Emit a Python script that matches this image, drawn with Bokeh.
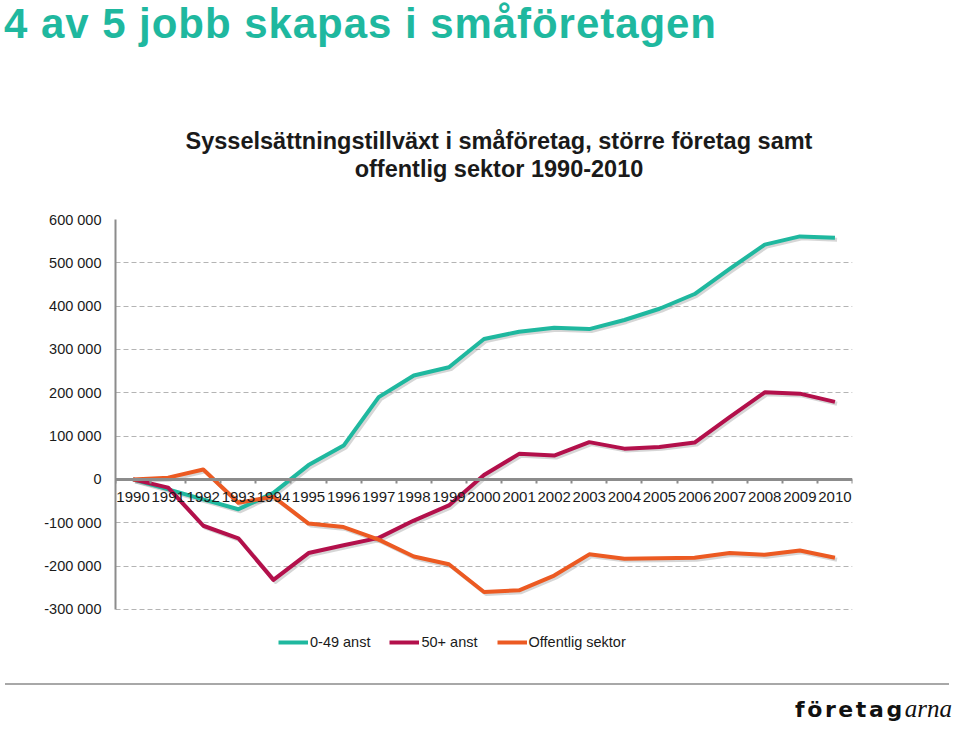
from bokeh.plotting import figure
from bokeh.models import (Div, Legend, LegendItem, FixedTicker, ColumnDataSource,
                          Range1d)
from bokeh.layouts import column
from bokeh.transform import dodge
from bokeh.embed import file_html
from bokeh.resources import INLINE

# ---------------- data ----------------
years = [1990, 1991, 1992, 1993, 1994, 1995, 1996, 1997, 1998, 1999, 2000,
         2001, 2002, 2003, 2004, 2005, 2006, 2007, 2008, 2009, 2010]
small = [0, -23000, -46000, -69000, -31000, 33000, 78000, 190000, 240000, 259000, 324000,
         341000, 350000, 347000, 368000, 394000, 428000, 486000, 542000, 561000, 558000]
large = [0, -19000, -107000, -136000, -232000, -170000, -152000, -135000, -95000, -60000, 10000,
         59000, 55000, 86000, 71000, 75000, 85000, 144000, 201000, 198000, 179000]
public = [0, 4000, 23000, -54000, -40000, -102000, -110000, -139000, -178000, -196000, -260000,
          -256000, -222000, -173000, -183000, -182000, -181000, -170000, -174000, -164000, -181000]
series_names = ["0-49 anst", "50+ anst", "Offentlig sektor"]
y_ticks = [-300000, -200000, -100000, 0, 100000, 200000, 300000, 400000, 500000, 600000]
y_tick_labels = ["-300 000", "-200 000", "-100 000", "0", "100 000", "200 000",
                 "300 000", "400 000", "500 000", "600 000"]
x_tick_labels = [str(y) for y in years]

headline = "4 av 5 jobb skapas i småföretagen"
chart_title_1 = "Sysselsättningstillväxt i småföretag, större företag samt"
chart_title_2 = "offentlig sektor 1990-2010"

# ---------------- style ----------------
TEAL = "#1FB89F"
CRIMSON = "#B3104B"
ORANGE = "#EC5A22"
FONT = "Liberation Sans"

src = ColumnDataSource(dict(year=years, small=small, large=large, public=public))

top = Div(width=944, height=186, text=f"""
<div style="position:relative;width:944px;height:186px;font-family:'Liberation Sans',Arial,sans-serif;">
  <div style="position:absolute;left:-1px;top:-6px;font-size:42px;font-weight:bold;color:{TEAL};letter-spacing:0.95px;line-height:50px;white-space:nowrap;">{headline}</div>
  <div style="position:absolute;left:94px;width:800px;top:122px;text-align:center;font-size:23.5px;font-weight:bold;color:#1a1a1a;line-height:28px;white-space:nowrap;">{chart_title_1}<br>{chart_title_2}</div>
</div>""")

p = figure(width=944, height=482, output_backend="svg", toolbar_location=None,
           x_range=Range1d(1989.5, 2010.5), y_range=Range1d(-395000, 600000),
           min_border_left=115, min_border_right=92, min_border_top=23, min_border_bottom=28)
p.outline_line_color = None
p.background_fill_color = "white"
p.border_fill_color = "white"

# axes
minor = [y - 0.5 for y in years] + [years[-1] + 0.5]
p.xaxis.ticker = FixedTicker(ticks=years, minor_ticks=minor)
p.xaxis.major_label_overrides = {y: l for y, l in zip(years, x_tick_labels)}
p.xaxis.fixed_location = 0
p.xaxis.axis_line_color = "#8c8c8c"
p.xaxis.axis_line_width = 3
p.xaxis.major_tick_line_color = None
p.xaxis.major_tick_out = 0
p.xaxis.major_tick_in = 0
p.xaxis.minor_tick_line_color = "#8c8c8c"
p.xaxis.minor_tick_line_width = 2
p.xaxis.minor_tick_out = 4
p.xaxis.minor_tick_in = 0
p.xaxis.major_label_standoff = 9
p.xaxis.major_label_text_font = FONT
p.xaxis.major_label_text_font_size = "15px"
p.xaxis.major_label_text_color = "#1a1a1a"

p.yaxis.ticker = FixedTicker(ticks=y_ticks)
p.yaxis.bounds = (y_ticks[0], y_ticks[-1])
p.yaxis.major_label_overrides = {t: l for t, l in zip(y_ticks, y_tick_labels)}
p.yaxis.axis_line_color = "#8c8c8c"
p.yaxis.axis_line_width = 2
p.yaxis.major_tick_line_color = None
p.yaxis.major_tick_out = 0
p.yaxis.major_tick_in = 0
p.yaxis.minor_tick_line_color = None
p.yaxis.major_label_standoff = 14
p.yaxis.major_label_text_font = FONT
p.yaxis.major_label_text_font_size = "14.5px"
p.yaxis.major_label_text_color = "#1a1a1a"

p.xgrid.grid_line_color = None
p.ygrid.ticker = FixedTicker(ticks=y_ticks)
p.ygrid.grid_line_color = "#b4b4b4"
p.ygrid.grid_line_dash = "5 3"
p.ygrid.grid_line_width = 1

# lines with soft shadow
renderers = []
for col, color in [("small", TEAL), ("large", CRIMSON), ("public", ORANGE)]:
    p.line(x=dodge("year", 0.06), y=dodge(col, -4500), source=src,
           line_color="#8a8a8a", line_alpha=0.35, line_width=4, line_join="round")
for col, color in [("small", TEAL), ("large", CRIMSON), ("public", ORANGE)]:
    r = p.line(x="year", y=col, source=src, line_color=color, line_width=4, line_join="round")
    renderers.append(r)

legend = Legend(items=[LegendItem(label=n, renderers=[r]) for n, r in zip(series_names, renderers)],
                orientation="horizontal", location=(163, 0), glyph_width=30, glyph_height=14,
                label_height=16, label_standoff=2, spacing=19, padding=0, margin=0,
                border_line_color=None, background_fill_alpha=0, label_text_font=FONT,
                label_text_font_size="14.5px", label_text_color="#1a1a1a")
p.add_layout(legend)

footer = Div(width=944, height=40, text="""
<div style="position:relative;width:944px;height:38px;border-top:2px solid #a8a8a8;">
  <div style="position:absolute;left:790px;top:9px;white-space:nowrap;line-height:30px;color:#111;">
    <span style="font-family:'DejaVu Sans',sans-serif;font-weight:bold;font-size:22px;letter-spacing:2.6px;">företag</span><span style="font-family:'Liberation Serif',serif;font-style:italic;font-size:25px;">arna</span>
  </div>
</div>""")

layout = column(top, p, footer, spacing=0)
open("out.html", "w").write(file_html(layout, INLINE))
